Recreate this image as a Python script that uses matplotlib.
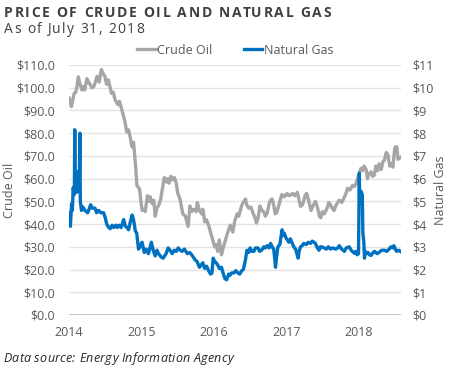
import pandas as pd
import matplotlib.pyplot as plt
import matplotlib.dates as mdates

plt.rcParams["font.family"] = ["Open Sans", "DejaVu Sans"]

# crude oil, $/barrel
oil_dates = [
    "2014-01-02", "2014-01-08", "2014-01-13", "2014-01-20", "2014-01-27", "2014-02-04",
    "2014-02-10", "2014-02-17", "2014-02-24", "2014-03-07", "2014-03-14", "2014-03-21",
    "2014-04-01", "2014-04-10", "2014-04-27", "2014-05-06", "2014-05-14", "2014-05-22",
    "2014-06-02", "2014-06-13", "2014-06-20", "2014-07-01", "2014-07-09", "2014-07-18",
    "2014-08-03", "2014-08-12", "2014-08-22", "2014-09-05", "2014-09-12", "2014-09-22",
    "2014-10-01", "2014-10-10", "2014-10-19", "2014-10-28", "2014-11-07", "2014-11-14",
    "2014-11-22", "2014-12-02", "2014-12-09", "2014-12-22", "2015-01-04", "2015-01-12",
    "2015-01-20", "2015-01-31", "2015-02-07", "2015-02-14", "2015-02-24", "2015-03-04",
    "2015-03-11", "2015-03-20", "2015-03-30", "2015-04-08", "2015-04-15", "2015-04-26",
    "2015-05-06", "2015-05-13", "2015-05-20", "2015-05-29", "2015-06-08", "2015-06-16",
    "2015-06-25", "2015-07-03", "2015-07-14", "2015-07-28", "2015-08-10", "2015-08-24",
    "2015-09-02", "2015-09-10", "2015-09-21", "2015-10-04", "2015-10-09", "2015-10-20",
    "2015-10-31", "2015-11-06", "2015-11-16", "2015-11-24", "2015-12-05", "2015-12-21",
    "2016-01-05", "2016-01-12", "2016-01-20", "2016-01-28", "2016-02-08", "2016-02-16",
    "2016-02-25", "2016-03-07", "2016-03-17", "2016-03-24", "2016-04-05", "2016-04-15",
    "2016-04-27", "2016-05-05", "2016-05-19", "2016-05-27", "2016-06-08", "2016-06-14",
    "2016-06-24", "2016-07-05", "2016-07-15", "2016-07-25", "2016-08-02", "2016-08-10",
    "2016-08-19", "2016-08-30", "2016-09-07", "2016-09-16", "2016-09-24", "2016-10-05",
    "2016-10-12", "2016-10-20", "2016-10-28", "2016-11-04", "2016-11-12", "2016-11-22",
    "2016-12-01", "2016-12-08", "2016-12-20", "2017-01-03", "2017-01-12", "2017-01-23",
    "2017-02-01", "2017-02-12", "2017-02-24", "2017-03-12", "2017-03-22", "2017-04-06",
    "2017-04-12", "2017-04-20", "2017-05-04", "2017-05-11", "2017-05-26", "2017-06-05",
    "2017-06-15", "2017-06-22", "2017-06-30", "2017-07-10", "2017-07-24", "2017-08-01",
    "2017-08-10", "2017-08-18", "2017-08-28", "2017-09-05", "2017-09-15", "2017-09-23",
    "2017-10-06", "2017-10-19", "2017-10-27", "2017-11-04", "2017-11-16", "2017-11-29",
    "2017-12-07", "2017-12-15", "2017-12-24", "2018-01-10", "2018-01-18", "2018-01-26",
    "2018-02-05", "2018-02-12", "2018-02-20", "2018-03-02", "2018-03-10", "2018-03-19",
    "2018-03-26", "2018-04-05", "2018-04-12", "2018-04-22", "2018-05-01", "2018-05-08",
    "2018-05-18", "2018-05-26", "2018-06-04", "2018-06-13", "2018-06-20", "2018-06-29",
    "2018-07-03", "2018-07-10", "2018-07-16", "2018-07-24", "2018-07-31",
]
oil_price = [
    95.4, 93.5, 91.7, 94.5, 97.5, 98.0,
    100.5, 104.8, 102.0, 99.0, 100.5, 99.0,
    104.0, 102.5, 100.0, 100.5, 102.5, 105.0,
    102.5, 108.0, 106.5, 105.0, 101.5, 103.5,
    97.5, 98.0, 94.5, 92.5, 94.0, 91.0,
    88.0, 85.0, 80.5, 81.5, 77.5, 74.0,
    76.0, 66.0, 57.0, 55.5, 46.0, 46.5,
    45.5, 52.5, 50.0, 52.0, 49.0, 50.5,
    43.5, 47.0, 48.5, 51.0, 55.0, 60.5,
    58.5, 60.0, 58.0, 61.0, 59.5, 60.5,
    58.0, 53.5, 51.0, 44.5, 43.5, 39.0,
    48.0, 45.5, 46.5, 45.5, 49.5, 46.0,
    44.5, 46.5, 41.0, 42.0, 39.5, 34.5,
    30.0, 31.0, 28.0, 33.0, 26.5, 29.5,
    32.0, 35.5, 38.0, 39.5, 36.5, 41.5,
    44.5, 43.5, 48.0, 49.5, 51.0, 48.5,
    47.0, 47.5, 45.0, 43.0, 40.5, 42.5,
    48.0, 46.0, 45.5, 43.5, 44.5, 49.0,
    50.5, 51.0, 48.5, 44.5, 45.0, 48.0,
    51.0, 53.0, 52.0, 53.5, 52.5, 53.0,
    53.5, 52.5, 54.0, 47.8, 48.5, 53.0,
    53.5, 51.0, 46.0, 47.5, 50.0, 47.5,
    43.5, 42.8, 45.5, 44.5, 47.0, 49.5,
    48.5, 47.0, 46.0, 48.0, 49.5, 50.5,
    49.5, 52.0, 53.5, 55.8, 55.0, 57.0,
    56.5, 57.5, 60.0, 64.5, 63.5, 65.5,
    64.0, 60.0, 62.0, 63.0, 61.0, 61.5,
    65.5, 63.5, 66.5, 64.0, 67.5, 68.0,
    71.5, 70.5, 65.5, 66.5, 65.0, 73.0,
    74.0, 74.0, 68.5, 69.0, 69.5,
]

# natural gas, $/MMBtu
gas_dates = [
    "2014-01-02", "2014-01-06", "2014-01-08", "2014-01-14", "2014-01-18", "2014-01-22",
    "2014-01-28", "2014-01-30", "2014-02-01", "2014-02-05", "2014-02-10", "2014-02-15",
    "2014-02-21", "2014-02-25", "2014-02-27", "2014-03-05", "2014-03-12", "2014-03-22",
    "2014-04-05", "2014-04-12", "2014-04-20", "2014-04-28", "2014-05-12", "2014-05-20",
    "2014-05-30", "2014-06-10", "2014-06-24", "2014-07-02", "2014-07-10", "2014-07-20",
    "2014-07-28", "2014-08-06", "2014-08-15", "2014-08-25", "2014-09-01", "2014-09-10",
    "2014-09-20", "2014-09-28", "2014-10-03", "2014-10-12", "2014-10-20", "2014-10-28",
    "2014-11-06", "2014-11-15", "2014-11-22", "2014-12-01", "2014-12-08", "2014-12-17",
    "2014-12-24", "2015-01-04", "2015-01-10", "2015-01-15", "2015-01-25", "2015-02-05",
    "2015-02-14", "2015-02-20", "2015-03-01", "2015-03-11", "2015-03-20", "2015-03-28",
    "2015-04-10", "2015-04-20", "2015-05-05", "2015-05-15", "2015-05-25", "2015-06-05",
    "2015-06-15", "2015-06-25", "2015-07-05", "2015-07-15", "2015-07-25", "2015-08-05",
    "2015-08-20", "2015-09-01", "2015-09-15", "2015-09-26", "2015-10-08", "2015-10-20",
    "2015-11-06", "2015-11-15", "2015-11-25", "2015-12-05", "2015-12-15", "2015-12-22",
    "2015-12-28", "2016-01-05", "2016-01-12", "2016-01-20", "2016-01-28", "2016-02-08",
    "2016-02-16", "2016-02-25", "2016-03-05", "2016-03-15", "2016-03-22", "2016-03-30",
    "2016-04-10", "2016-04-20", "2016-05-01", "2016-05-10", "2016-05-20", "2016-05-28",
    "2016-06-08", "2016-06-15", "2016-06-24", "2016-07-01", "2016-07-10", "2016-07-20",
    "2016-07-28", "2016-08-10", "2016-08-18", "2016-08-28", "2016-09-08", "2016-09-15",
    "2016-09-25", "2016-10-05", "2016-10-12", "2016-10-20", "2016-10-28", "2016-11-03",
    "2016-11-06", "2016-11-12", "2016-11-18", "2016-11-28", "2016-12-09", "2016-12-14",
    "2016-12-20", "2016-12-28", "2017-01-12", "2017-01-20", "2017-02-06", "2017-02-15",
    "2017-02-28", "2017-03-05", "2017-03-12", "2017-03-20", "2017-03-28", "2017-04-10",
    "2017-04-20", "2017-05-01", "2017-05-10", "2017-05-26", "2017-06-05", "2017-06-13",
    "2017-06-20", "2017-06-28", "2017-07-10", "2017-07-20", "2017-07-30", "2017-08-10",
    "2017-08-20", "2017-09-05", "2017-09-15", "2017-09-23", "2017-10-05", "2017-10-19",
    "2017-10-28", "2017-11-12", "2017-11-22", "2017-12-07", "2017-12-15", "2017-12-22",
    "2017-12-29", "2018-01-02", "2018-01-04", "2018-01-10", "2018-01-17", "2018-01-20",
    "2018-01-25", "2018-01-28", "2018-02-01", "2018-02-08", "2018-02-15", "2018-02-22",
    "2018-03-02", "2018-03-12", "2018-03-20", "2018-04-02", "2018-04-15", "2018-04-25",
    "2018-05-10", "2018-05-20", "2018-06-01", "2018-06-10", "2018-06-18", "2018-06-25",
    "2018-07-05", "2018-07-10", "2018-07-20", "2018-07-31",
]
gas_price = [
    4.5, 4.1, 3.9, 4.9, 4.6, 5.6,
    5.3, 8.15, 5.5, 6.2, 5.4, 6.3,
    5.5, 8.0, 5.0, 4.6, 4.75, 4.6,
    4.5, 4.65, 4.85, 4.7, 4.7, 4.5,
    4.6, 4.5, 4.5, 4.3, 4.0, 3.85,
    3.8, 3.95, 3.85, 3.95, 3.85, 3.95,
    3.85, 4.05, 4.2, 3.9, 3.85, 3.75,
    4.1, 4.4, 4.2, 3.7, 3.6, 2.9,
    3.0, 3.2, 2.95, 2.75, 2.9, 2.7,
    3.0, 3.2, 2.85, 2.6, 2.85, 2.7,
    2.55, 2.5, 2.7, 2.95, 2.85, 2.7,
    2.85, 2.8, 2.95, 2.85, 2.8, 2.9,
    2.7, 2.75, 2.6, 2.45, 2.35, 2.1,
    2.3, 2.05, 2.15, 1.95, 1.8, 1.85,
    2.5, 2.35, 2.3, 2.2, 2.05, 2.1,
    1.85, 1.6, 1.55, 1.8, 1.75, 1.85,
    1.85, 1.95, 1.85, 1.8, 1.95, 2.0,
    2.45, 2.85, 2.75, 2.95, 2.8, 2.8,
    2.95, 2.95, 2.8, 2.85, 3.0, 2.95,
    3.05, 2.95, 3.15, 3.0, 2.9, 2.4,
    2.1, 2.6, 3.0, 3.1, 3.75, 3.5,
    3.6, 3.4, 3.2, 3.35, 3.0, 2.9,
    2.5, 2.8, 3.0, 3.05, 3.15, 3.1,
    3.2, 3.15, 3.25, 3.15, 2.95, 2.85,
    3.0, 3.0, 2.95, 2.9, 3.0, 2.9,
    2.95, 2.9, 2.95, 3.05, 2.9, 2.8,
    2.95, 3.0, 2.85, 2.72, 2.8, 2.65,
    2.7, 6.24, 4.95, 5.45, 5.3, 3.6,
    3.2, 2.5, 2.8, 2.7, 2.75, 2.65,
    2.62, 2.75, 2.8, 2.7, 2.78, 2.85,
    2.85, 2.8, 2.9, 3.0, 2.95, 3.05,
    2.85, 2.8, 2.85, 2.78,
]

oil_x = pd.to_datetime(oil_dates)
gas_x = pd.to_datetime(gas_dates)

grey = "#A6A6A6"
blue = "#0070C0"
text_grey = "#595959"

fig = plt.figure(figsize=(4.5, 3.68), dpi=100)
ax = fig.add_axes([69 / 450, 1 - 315 / 368, 332 / 450, 250 / 368])
ax2 = ax.twinx()

ax.plot(oil_x, oil_price, color=grey, lw=2.4, label="Crude Oil")
ax2.plot(gas_x, gas_price, color=blue, lw=2.4, label="Natural Gas")

ax.set_xlim(pd.Timestamp("2014-01-01"), pd.Timestamp("2018-07-31"))
ax.set_ylim(0, 110)
ax2.set_ylim(0, 11)
ax.set_yticks(range(0, 111, 10))
ax2.set_yticks(range(0, 12))
ax.set_yticklabels([f"${v:.1f}" for v in range(0, 111, 10)])
ax2.set_yticklabels([f"${v}" for v in range(0, 12)])
ax.xaxis.set_major_locator(mdates.YearLocator())
ax.xaxis.set_major_formatter(mdates.DateFormatter("%Y"))

for a in (ax, ax2):
    for s in a.spines.values():
        s.set_visible(False)
    a.tick_params(length=0, labelsize=9, colors=text_grey)
ax.tick_params(axis="y", pad=10)
ax2.tick_params(axis="y", pad=8)
ax.tick_params(axis="x", pad=8)
ax.grid(axis="y", color="#E3E3E3", lw=1)
ax.set_axisbelow(True)
ax.axhline(0, color="#BFBFBF", lw=1.2)

fig.text(10 / 450, 1 - 190 / 368, "Crude Oil", rotation=90, ha="center", va="center",
         color=text_grey, fontsize=9)
fig.text(440 / 450, 1 - 190 / 368, "Natural Gas", rotation=90, ha="center", va="center",
         color=text_grey, fontsize=9)


# text with extra letter spacing so it fills a given width in pixels
def tracked(x_px, y_px, s, width_px, **kw):
    r = fig.canvas.get_renderer()

    def w(txt):
        t = fig.text(0, 0, txt, **kw)
        e = t.get_window_extent(renderer=r).width
        t.remove()
        return e

    track = (width_px - w(s)) / (len(s) - 1)
    ref = w("x")
    for i, ch in enumerate(s):
        off = w(s[:i] + "x") - ref if i else 0
        fig.text((x_px + off + i * track) / 450, 1 - y_px / 368, ch, **kw)


tracked(4, 16.7, "PRICE OF CRUDE OIL AND NATURAL GAS", 327,
        fontsize=10, fontweight="bold", color="#404040")
tracked(4, 33, "As of July 31, 2018", 140, fontsize=10, color="#404040")
tracked(3, 362, "Data source: Energy Information Agency", 230,
        fontsize=9, style="italic", color="#262626")

h1, l1 = ax.get_legend_handles_labels()
h2, l2 = ax2.get_legend_handles_labels()
fig.legend(h1 + h2, l1 + l2, loc="center", bbox_to_anchor=(235 / 450, 1 - 50 / 368),
           ncol=2, frameon=False, fontsize=9, handlelength=1.5, handletextpad=0.1,
           columnspacing=2.5, labelcolor=text_grey)

fig.savefig("out.png", dpi=100)
